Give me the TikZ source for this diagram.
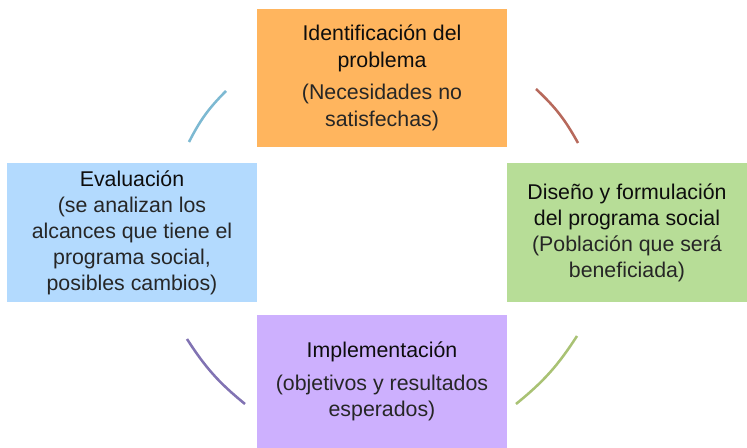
\documentclass[tikz,border=0pt]{standalone}
\usepackage{fontspec}
\setmainfont{Liberation Sans}
\definecolor{naranja}{HTML}{FFB55E}
\definecolor{celeste}{HTML}{B3DAFE}
\definecolor{verde}{HTML}{B7DD97}
\definecolor{lila}{HTML}{CDB0FE}
\definecolor{arcoazul}{HTML}{7DB9D2}
\definecolor{arcorojo}{HTML}{B7695C}
\definecolor{arcolila}{HTML}{8173B3}
\definecolor{arcoverde}{HTML}{A9C274}
\newcommand{\tenue}{\color{black!85}}
\tikzset{
  etapa/.style={rectangle, align=center, inner sep=0pt, text=black!95,
    font=\fontsize{16}{19.5}\selectfont},
  arco/.style={line width=1.9pt},
}
\begin{document}
\begin{tikzpicture}[x=0.75pt,y=-0.75pt]
  \useasboundingbox (0,0) rectangle (747,448);
  % four stages
  \node[etapa, fill=naranja, minimum width=187.5pt, minimum height=103.5pt] (ident) at (382,78)
    {Identificación del\\[0.5pt]problema\\[5pt]\tenue(Necesidades no\\[0.5pt]\tenue satisfechas)};
  \node[etapa, fill=verde, minimum width=180pt, minimum height=104pt] (diseno) at (627,232.5)
    {Diseño y formulación\\del programa social\\\tenue(Población que será\\\tenue beneficiada)};
  \node[etapa, fill=lila, minimum width=187.5pt, minimum height=99.75pt] (implem) at (382,381.5)
    {Implementación\\[5pt]\tenue(objetivos y resultados\\[0.5pt]\tenue esperados)};
  \node[etapa, fill=celeste, minimum width=187.5pt, minimum height=104pt] (evalua) at (132,232.5)
    {Evaluación\\\tenue(se analizan los\\\tenue alcances que tiene el\\\tenue programa social,\\\tenue posibles cambios)};
  % arc ends
  \coordinate (rA) at (536,89);  \coordinate (rB) at (578,143);
  \coordinate (vA) at (577,336); \coordinate (vB) at (516,404);
  \coordinate (lA) at (245,404); \coordinate (lB) at (187,339);
  \coordinate (aA) at (189,142); \coordinate (aB) at (226,91);
  % arcs of the cycle
  \draw[arco, arcorojo] (rA) to[bend left=9] (rB);
  \draw[arco, arcoverde] (vA) to[bend left=9] (vB);
  \draw[arco, arcolila] (lA) to[bend left=9] (lB);
  \draw[arco, arcoazul] (aA) to[bend left=9] (aB);
\end{tikzpicture}
\end{document}
